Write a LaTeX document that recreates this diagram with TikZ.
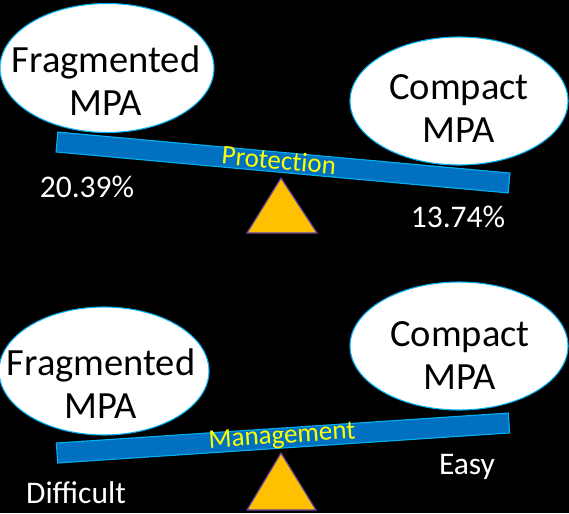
\documentclass[tikz,border=0pt]{standalone}
\usepackage{fontspec}
\setmainfont{Carlito}
\newfontfamily\beamfont[Ligatures=NoCommon]{Carlito}
\usetikzlibrary{shapes.geometric}
\definecolor{barblue}{HTML}{0070C0}
\definecolor{edgeblue}{HTML}{00B0F0}
\definecolor{triorange}{HTML}{FFC000}
\definecolor{triedge}{HTML}{6040A0}
\definecolor{labyellow}{HTML}{FFFF00}
\tikzset{
  bubble/.style={ellipse, draw=edgeblue, line width=1.1pt, fill=white, inner sep=0pt},
  bubbletext/.style={align=center, text=black, inner sep=0pt, font=\fontsize{38.5}{43}\selectfont},
  beam/.style={rectangle, draw=edgeblue, line width=1.1pt, fill=barblue, inner sep=0pt, minimum height=20pt},
  beamtext/.style={text=labyellow, inner sep=0pt, font=\beamfont\fontsize{27}{30}\selectfont},
  valtext/.style={text=white, inner sep=0pt, font=\fontsize{31.5}{34}\selectfont},
  fulcrum/.style={fill=triorange, draw=triedge, line width=1.2pt, line join=miter},
}
\begin{document}
\begin{tikzpicture}[x=1pt,y=-1pt]
\fill[black] (0,0) rectangle (569,513);
\useasboundingbox (0,0) rectangle (569,513);

% ---------- top scale ----------
\node[bubble, minimum width=214pt, minimum height=129pt] (e1) at (107,68) {};
\node[bubbletext] (t1) at (106,81) {Fragmented\\MPA};
\node[bubble, minimum width=218pt, minimum height=128pt] (e2) at (459,101) {};
\node[bubbletext] (t2) at (459,109) {Compact\\MPA};

\node[beam, minimum width=454pt, rotate=-5.18] (b1) at (283,162.5) {};
\node[beamtext, rotate=-5.18] (l1) at (279,160) {Protection};

\filldraw[fulcrum] (281,178) -- (317,233) -- (247,233) -- cycle;

\node[valtext] (v1) at (87,187) {20.39\%};
\node[valtext] (v2) at (458,217) {13.74\%};

% ---------- bottom scale ----------
\node[bubble, minimum width=210pt, minimum height=128pt] (e3) at (104,371) {};
\node[bubbletext] (t3) at (101,384) {Fragmented\\MPA};
\node[bubble, minimum width=218pt, minimum height=128pt] (e4) at (459,346) {};
\node[bubbletext] (t4) at (460,356) {Compact\\MPA};

\node[beam, minimum width=453pt, rotate=3.8] (b2) at (283,438) {};
\node[beamtext, rotate=3.8] (l2) at (282,437) {Management};

\filldraw[fulcrum] (281,453) -- (316,510) -- (247,510) -- cycle;

\node[valtext] (v3) at (467,467) {Easy};
\node[valtext] (v4) at (76,493) {Difficult};
\end{tikzpicture}
\end{document}
